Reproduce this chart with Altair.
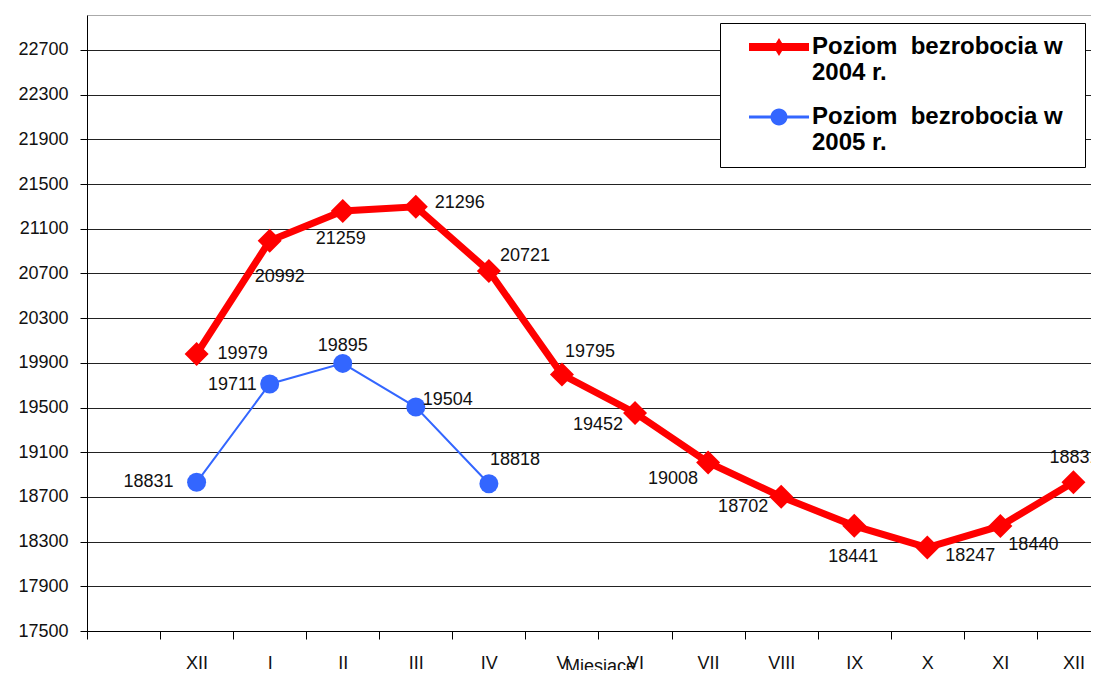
import altair as alt
import pandas as pd

# ---- data ----
MONTH_LABELS = ["", "XII", "I", "II", "III", "IV", "V", "VI", "VII", "VIII", "IX", "X", "XI", "XII"]
SERIES = ["Poziom\u00a0 bezrobocia w 2004 r.", "Poziom\u00a0 bezrobocia w 2005 r."]
MONTHS_2004 = [1, 2, 3, 4, 5, 6, 7, 8, 9, 10, 11, 12, 13]
VALUES_2004 = [19979, 20992, 21259, 21296, 20721, 19795, 19452, 19008, 18702, 18441, 18247, 18440, 18831]
MONTHS_2005 = [1, 2, 3, 4, 5]
VALUES_2005 = [18831, 19711, 19895, 19504, 18818]
Y_TICKS = list(range(17500, 22701, 400))
Y_TOP = 23013

# label placement (style): (align, dx, dy) per point
LABEL_STYLE_2004 = [("left", 21, 0), ("center", 10, 36), ("center", -2, 28), ("left", 19, -4),
                    ("left", 11, -15), ("left", 3, -23), ("right", -12, 12), ("right", -10, 16),
                    ("right", -13, 10), ("center", -1, 31), ("center", 43, 8), ("center", 33, 19),
                    ("left", -24, -24)]
LABEL_STYLE_2005 = [("right", -23, 0), ("right", -13, 1), ("center", 0, -17), ("left", 7, -7),
                    ("left", 1, -24)]

RED = "#FF0000"
BLUE = "#3366FF"
FONT = "Liberation Sans"

df = pd.DataFrame(
    [{"series": SERIES[0], "month": m, "value": v} for m, v in zip(MONTHS_2004, VALUES_2004)]
    + [{"series": SERIES[1], "month": m, "value": v} for m, v in zip(MONTHS_2005, VALUES_2005)]
)

label_arr = "[" + ",".join(f"'{l}'" for l in MONTH_LABELS) + "]"

x_enc = alt.X(
    "pos:Q",
    scale=alt.Scale(domain=[0, 13.74], nice=False, zero=False),
    axis=alt.Axis(
        values=list(range(len(MONTH_LABELS))),
        labelExpr=f"{label_arr}[datum.value]",
        labelOffset=36.5,
        labelFlush=False,
        labelOverlap=False,
        labelBound=False,
        grid=False,
        tickSize=8,
        tickColor="#000",
        domainColor="#000",
        labelFont=FONT,
        labelFontSize=18,
        labelColor="#111",
        labelPadding=15,
        title="Miesiące",
        titleFont=FONT,
        titleFontSize=18,
        titleFontWeight="normal",
        titleColor="#111",
        titleBaseline="top",
        titleX=513,
        titleY=26,
    ),
)

y_enc = alt.Y(
    "value:Q",
    scale=alt.Scale(domain=[17500, Y_TOP], nice=False, zero=False),
    axis=alt.Axis(
        values=Y_TICKS + [Y_TOP],
        format="d",
        labelExpr="datum.value > 23000 ? '' : datum.label",
        grid=True,
        gridColor={"condition": {"test": "datum.value > 23000", "value": "#aaaaaa"}, "value": "#222222"},
        gridWidth=1,
        tickOpacity={"condition": {"test": "datum.value > 23000", "value": 0}, "value": 1},
        tickSize=7,
        tickColor="#000",
        domainColor="#000",
        labelFont=FONT,
        labelFontSize=18,
        labelColor="#111",
        labelPadding=12,
        title=None,
    ),
)

base = alt.Chart(df).transform_calculate(pos="datum.month + 0.5")

s04 = base.transform_filter(f"datum.series == '{SERIES[0]}'")
s05 = base.transform_filter(f"datum.series == '{SERIES[1]}'")

red_line = s04.mark_line(color=RED, strokeWidth=7).encode(x=x_enc, y=y_enc)
red_pts = s04.mark_point(shape="diamond", filled=True, size=576, color=RED, opacity=1).encode(x=x_enc, y=y_enc)
blue_line = s05.mark_line(color=BLUE, strokeWidth=2).encode(x=x_enc, y=y_enc)
blue_pts = s05.mark_point(shape="circle", filled=True, size=361, color=BLUE, opacity=1).encode(x=x_enc, y=y_enc)

label_layers = []
for sname, months, styles in [(SERIES[0], MONTHS_2004, LABEL_STYLE_2004), (SERIES[1], MONTHS_2005, LABEL_STYLE_2005)]:
    for m, (al, dx, dy) in zip(months, styles):
        label_layers.append(
            base.transform_filter(f"datum.series == '{sname}' && datum.month == {m}")
            .mark_text(align=al, baseline="middle", dx=dx, dy=dy, font=FONT, fontSize=18, color="#111")
            .encode(x=x_enc, y=y_enc, text=alt.Text("value:Q", format="d"))
        )

# legend symbols: line with marker (custom paths, unit = sqrt(size)/2 px = 10 px)
PATH_RED = "M-3,-0.4H3V0.4H-3Z M0,-0.9L0.55,0L0,0.9L-0.55,0Z M29.4,0"
PATH_BLUE = "M-3,-0.15H3V0.15H-3Z M-0.85,0A0.85,0.85,0,1,1,0.85,0A0.85,0.85,0,1,1,-0.85,0Z M29.4,0"

legend_layer = base.transform_filter("false").mark_point(filled=True, size=400, opacity=1).encode(
    color=alt.Color("series:N", scale=alt.Scale(domain=SERIES, range=[RED, BLUE])),
    shape=alt.Shape("series:N", scale=alt.Scale(domain=SERIES, range=[PATH_RED, PATH_BLUE]),
                    legend=alt.Legend(
                        orient="none", legendX=633, legendY=8, title=None,
                        fillColor="white", strokeColor="#000", padding=12,
                        symbolSize=400, symbolStrokeWidth=0, symbolOffset=35, symbolOpacity=1,
                        labelOffset=21, labelLimit=500, labelFont=FONT, labelFontSize=24,
                        labelFontWeight="bold", labelColor="#000", labelBaseline="middle",
                        labelExpr="[substring(datum.label, 0, 20), substring(datum.label, 21)]",
                        rowPadding=20,
                    )),
)

chart = alt.layer(red_line, blue_line, red_pts, blue_pts, *label_layers, legend_layer).properties(
    width=1004, height=616,
    padding={"left": 79, "top": 7, "right": 0, "bottom": 39},
    autosize=alt.AutoSizeParams(type="none"),
    background="white",
).configure_view(stroke=None).configure(font=FONT)

chart.save("out.html", embed_options={"renderer": "svg", "actions": False})
